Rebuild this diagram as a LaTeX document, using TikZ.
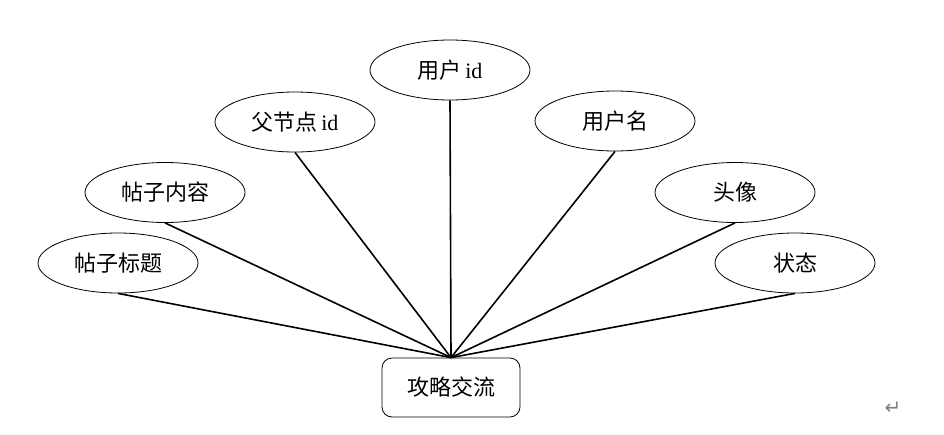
\documentclass[tikz,border=0pt]{standalone}
\usepackage{fontspec}
\setmainfont{Liberation Serif}
\newfontfamily\cjk{Noto Sans CJK SC}[Scale=1.0]
\newfontfamily\symf{DejaVu Sans}
\usetikzlibrary{shapes.geometric}
\begin{document}
\begin{tikzpicture}[x=1pt,y=-1pt,
  attr/.style={ellipse,draw=black,line width=0.8pt,minimum width=160pt,minimum height=60pt,inner sep=0pt,font=\cjk\fontsize{22}{24}\selectfont},
  ent/.style={rectangle,rounded corners=10pt,draw=black,line width=0.8pt,minimum width=138pt,minimum height=59pt,inner sep=0pt,font=\cjk\fontsize{22}{24}\selectfont},
  conn/.style={line width=1.6pt}]
\useasboundingbox (0,0) rectangle (944,434);
\node[ent] (hub) at (451,387.5) {攻略交流};
\node[attr] (uid) at (450,70) {用户\,{\rmfamily\fontsize{22}{24}\selectfont id}};
\node[attr] (pid) at (295,122) {父节点\,{\rmfamily\fontsize{22}{24}\selectfont id}};
\node[attr] (uname) at (615,121) {用户名};
\node[attr] (content) at (165,192.5) {帖子内容};
\node[attr] (avatar) at (735,192.5) {头像};
\node[attr] (title) at (118,263) {帖子标题};
\node[attr] (status) at (795,263) {状态};
\foreach \n in {uid,pid,uname,content,avatar,title,status}
  \draw[conn] (\n.south) -- (hub.north);
\node[text=gray,font=\symf\fontsize{20}{22}\selectfont] (ret) at (893,408) {↵};
\end{tikzpicture}
\end{document}
